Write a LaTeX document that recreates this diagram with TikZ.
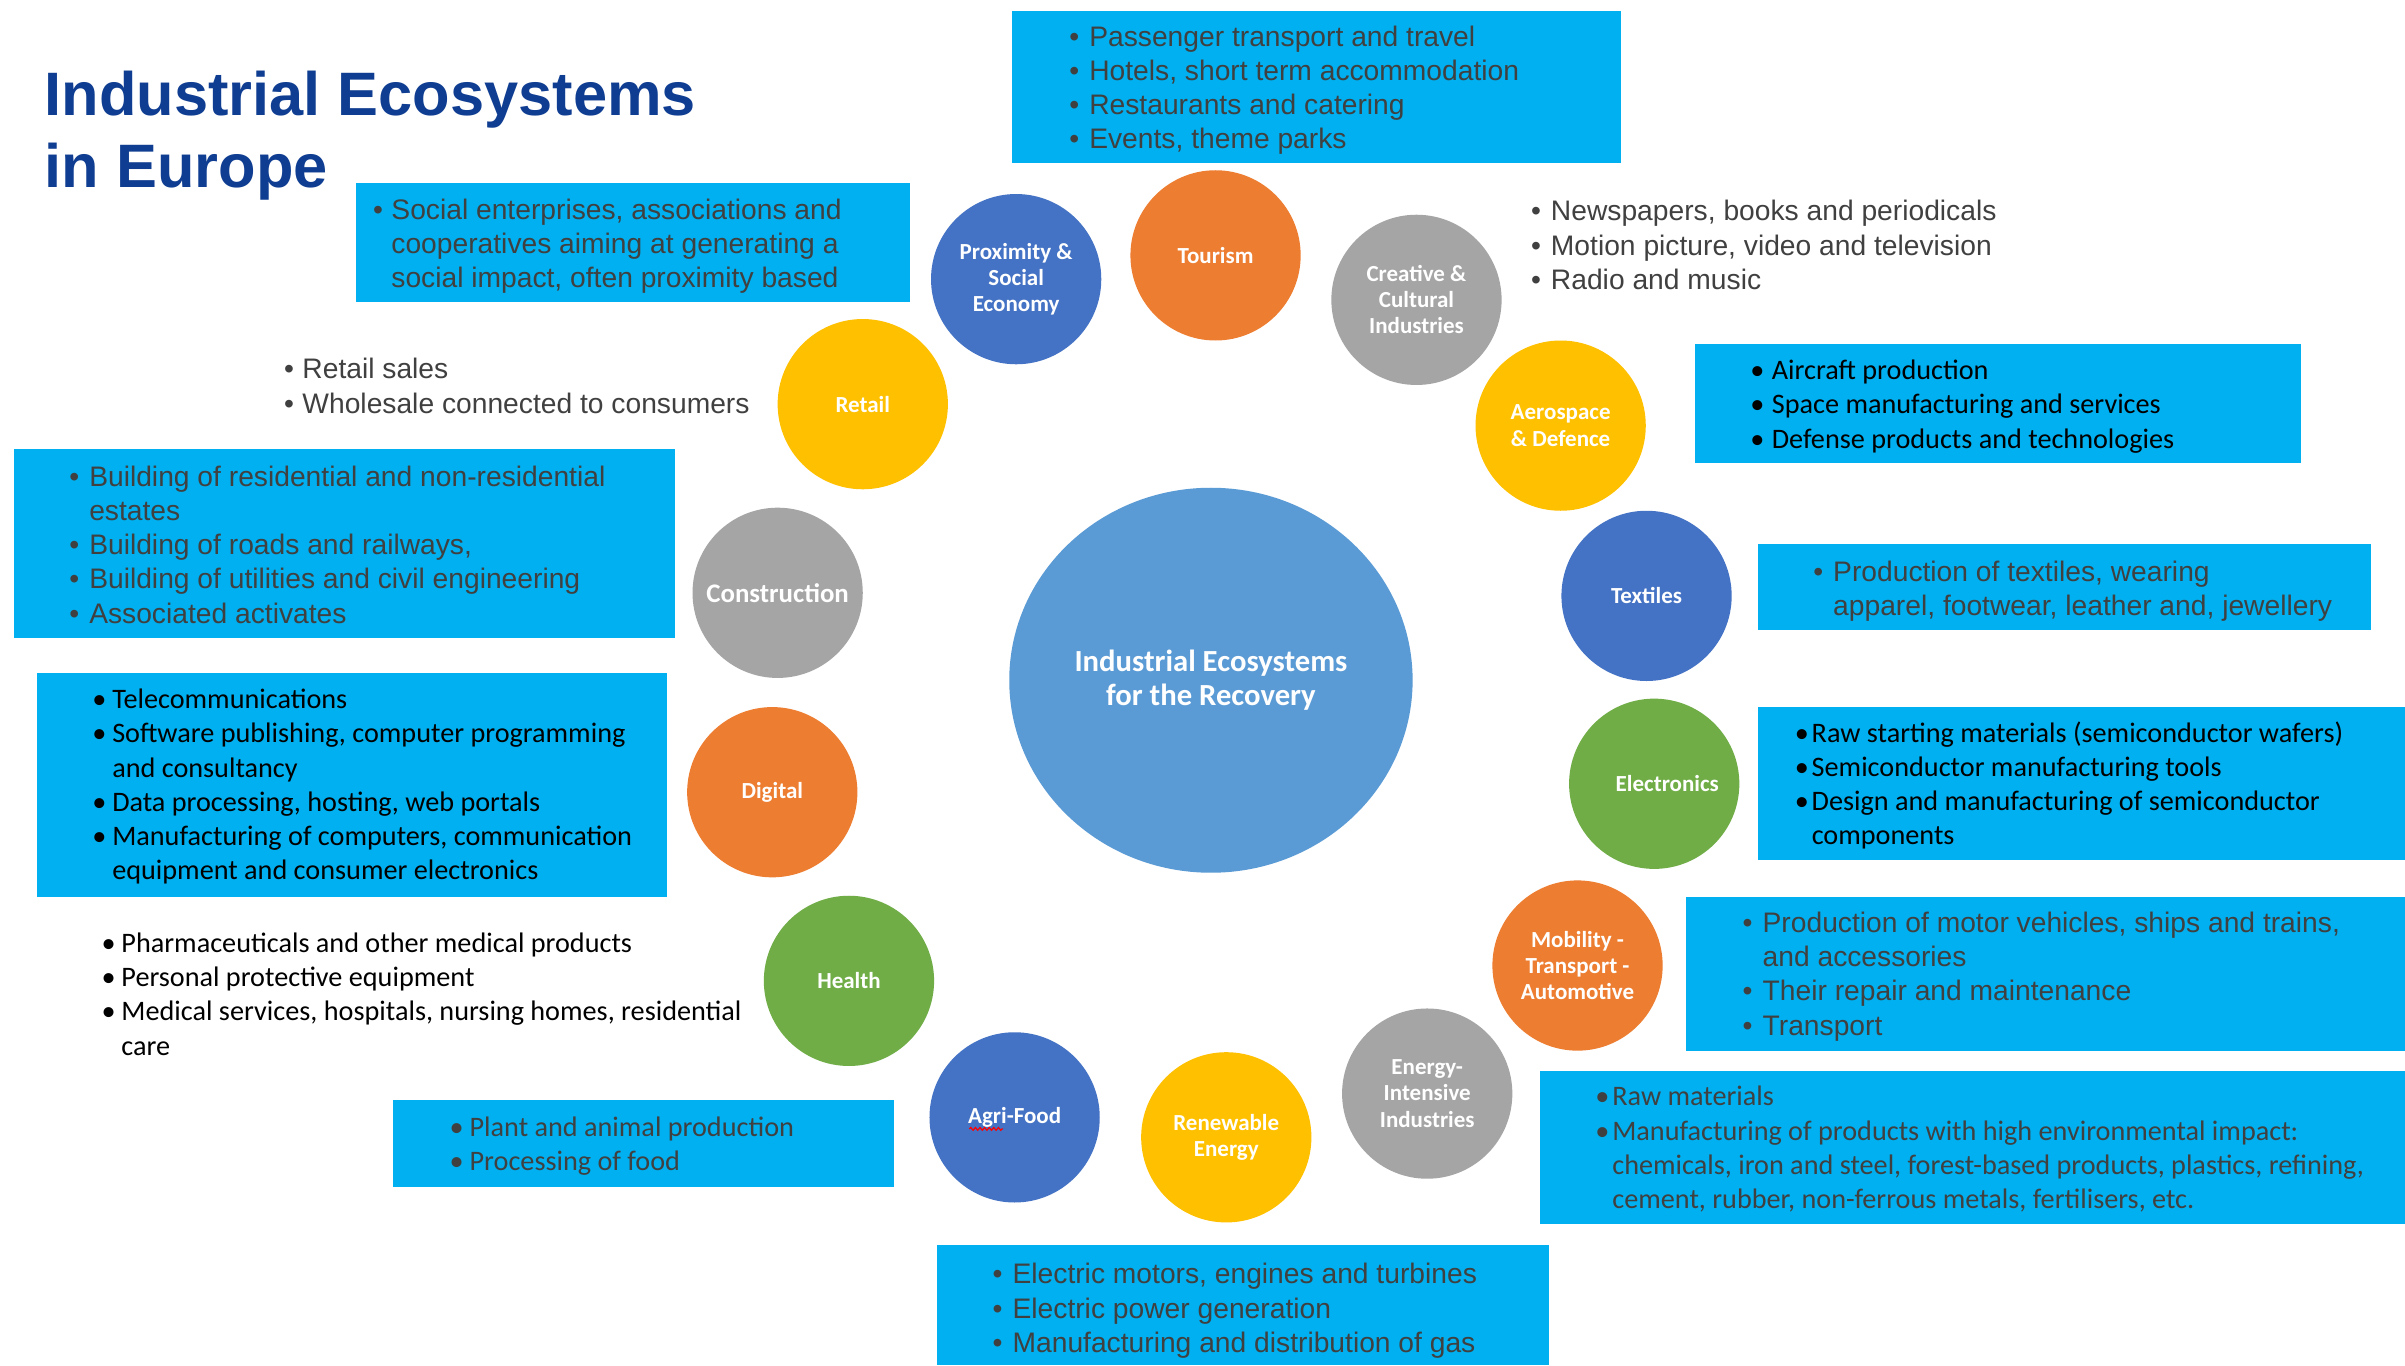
\documentclass[tikz,border=0pt]{standalone}
\usepackage{fontspec}
\setmainfont{Liberation Sans}
\newfontfamily\calfont{Carlito}
\usetikzlibrary{shapes.geometric,decorations.pathmorphing}
\definecolor{boxblue}{HTML}{00B0F0}
\definecolor{cblue}{HTML}{4472C4}
\definecolor{corange}{HTML}{ED7D31}
\definecolor{cgray}{HTML}{A5A5A5}
\definecolor{cyellow}{HTML}{FFC000}
\definecolor{cgreen}{HTML}{70AD47}
\definecolor{ccenter}{HTML}{5B9BD5}
\definecolor{titleblue}{HTML}{0F3D91}
\definecolor{txtgray}{HTML}{404040}
\newlength\bw
\newcommand\bi[1]{\hbox{\makebox[\bw][l]{\textbullet}#1}}
\newcommand\ci[1]{\hbox{\hspace*{\bw}#1}}
\newcommand\blist[2]{\setlength\bw{#1}\vtop{#2}}
\tikzset{
  eco/.style={circle, minimum size=111pt, inner sep=0pt, align=center, text=white,
    font=\calfont\bfseries\fontsize{15}{17}\selectfont},
  ar/.style={anchor=base west, inner sep=0pt, text=txtgray, font=\fontsize{18.4}{22.3}\selectfont},
  ca/.style={anchor=base west, inner sep=0pt, text=black, font=\calfont\fontsize{18.4}{22.3}\selectfont},
  cag/.style={ca, text=txtgray},
  bluebox/.style={fill=boxblue}
}
\begin{document}
\begin{tikzpicture}[x=1pt,y=-1pt]
\useasboundingbox (0,0) rectangle (1568,890);
\fill[white] (0,0) rectangle (1568,890);
% title
\node[anchor=base west, inner sep=0pt, text=titleblue, font=\bfseries\fontsize{40}{47.5}\selectfont] (title) at (29,75)
  {\vtop{\hbox{Industrial Ecosystems}\hbox{in Europe}}};
% boxes
\fill[bluebox] (660,7) rectangle (1057,106);
\fill[bluebox] (232,119) rectangle (593,197);
\fill[bluebox] (1105,224) rectangle (1500,302);
\fill[bluebox] (9,293) rectangle (440,416);
\fill[bluebox] (1146,355) rectangle (1546,411);
\fill[bluebox] (24,439) rectangle (435,585);
\fill[bluebox] (1146,461) rectangle (1568,561);
\fill[bluebox] (1099,585) rectangle (1568,685);
\fill[bluebox] (1004,698) rectangle (1568,798);
\fill[bluebox] (256,717) rectangle (583,774);
\fill[bluebox] (611,812) rectangle (1010,890);
% texts
\node[ar] (ttour) at (697,30) {\blist{13pt}{\bi{Passenger transport and travel}\bi{Hotels, short term accommodation}\bi{Restaurants and catering}\bi{Events, theme parks}}};
\node[ar] (tsoc) at (243,143) {\blist{12pt}{\bi{Social enterprises, associations and}\ci{cooperatives aiming at generating a}\ci{social impact, often proximity based}}};
\node[ar] (tcre) at (998,144) {\blist{13pt}{\bi{Newspapers, books and periodicals}\bi{Motion picture, video and television}\bi{Radio and music}}};
\node[ca] (taer) at (1141,247.5) {\blist{14pt}{\bi{Aircraft production}\bi{Space manufacturing and services}\bi{Defense products and technologies}}};
\node[ar] (tret) at (185,247) {\blist{12pt}{\bi{Retail sales}\bi{Wholesale connected to consumers}}};
\node[ar] (tcon) at (45,317) {\blist{13pt}{\bi{Building of residential and non-residential}\ci{estates}\bi{Building of roads and railways,}\bi{Building of utilities and civil engineering}\bi{Associated activates}}};
\node[ar] (ttex) at (1182,379) {\blist{13pt}{\bi{Production of textiles, wearing}\ci{apparel, footwear, leather and, jewellery}}};
\node[ca] (tdig) at (60,462) {\blist{13pt}{\bi{Telecommunications}\bi{Software publishing, computer programming}\ci{and consultancy}\bi{Data processing, hosting, web portals}\bi{Manufacturing of computers, communication}\ci{equipment and consumer electronics}}};
\node[ca] (tele) at (1170,484) {\blist{11pt}{\bi{Raw starting materials (semiconductor wafers)}\bi{Semiconductor manufacturing tools}\bi{Design and manufacturing of semiconductor}\ci{components}}};
\node[ar] (tmob) at (1136,608) {\blist{13pt}{\bi{Production of motor vehicles, ships and trains,}\ci{and accessories}\bi{Their repair and maintenance}\bi{Transport}}};
\node[ca] (thea) at (66,621) {\blist{13pt}{\bi{Pharmaceuticals and other medical products}\bi{Personal protective equipment}\bi{Medical services, hospitals, nursing homes, residential}\ci{care}}};
\node[cag] (tene) at (1040,721) {\blist{11pt}{\bi{Raw materials}\bi{Manufacturing of products with high environmental impact:}\ci{chemicals, iron and steel, forest-based products, plastics, refining,}\ci{cement, rubber, non-ferrous metals, fertilisers, etc.}}};
\node[cag] (tagr) at (293,741) {\blist{13pt}{\bi{Plant and animal production}\bi{Processing of food}}};
\node[ar] (tren) at (647,837) {\blist{13pt}{\bi{Electric motors, engines and turbines}\bi{Electric power generation}\bi{Manufacturing and distribution of gas}}};
% centre
\node[ellipse, minimum width=263pt, minimum height=251pt, inner sep=0pt, fill=ccenter, text=white, align=center,
  font=\calfont\bfseries\fontsize{20}{22}\selectfont] (centre) at (789.5,443.5) {Industrial Ecosystems\\for the Recovery};
% circles
\node[eco, fill=cblue] (prox) at (662.5,182) {Proximity \&\\Social\\Economy};
\node[eco, fill=corange] (tour) at (792.5,166.5) {Tourism};
\node[eco, fill=cgray] (crea) at (923.5,195.5) {Creative \&\\Cultural\\Industries};
\node[eco, fill=cyellow] (aero) at (1017.5,277.5) {Aerospace\\\& Defence};
\node[eco, fill=cblue] (text) at (1073.5,388.5) {Textiles};
\node[eco, fill=cgreen] (elec) at (1078.5,511) {};
\node[inner sep=0pt, text=white, font=\calfont\bfseries\fontsize{15}{17}\selectfont] (electxt) at (1087,511) {Electronics};
\node[eco, fill=corange] (mobi) at (1028.5,629.5) {Mobility -\\Transport -\\Automotive};
\node[eco, fill=cgray] (ener) at (930.5,713) {Energy-\\Intensive\\Industries};
\node[eco, fill=cyellow] (rene) at (799.5,741.5) {Renewable\\Energy};
\node[eco, fill=cblue] (agri) at (661.5,728.5) {Agri-Food};
\node[eco, fill=cgreen] (heal) at (553.5,639.5) {Health};
\node[eco, fill=corange] (digi) at (503.5,516.5) {Digital};
\node[eco, fill=cgray, font=\calfont\bfseries\fontsize{17.5}{19}\selectfont] (cons) at (507,386.5) {Construction};
\node[eco, fill=cyellow] (reta) at (562.5,263.5) {Retail};
\draw[red, line width=0.8pt, decorate, decoration={snake, amplitude=0.9pt, segment length=3pt}] (632,736) -- (654,736);
\end{tikzpicture}
\end{document}
